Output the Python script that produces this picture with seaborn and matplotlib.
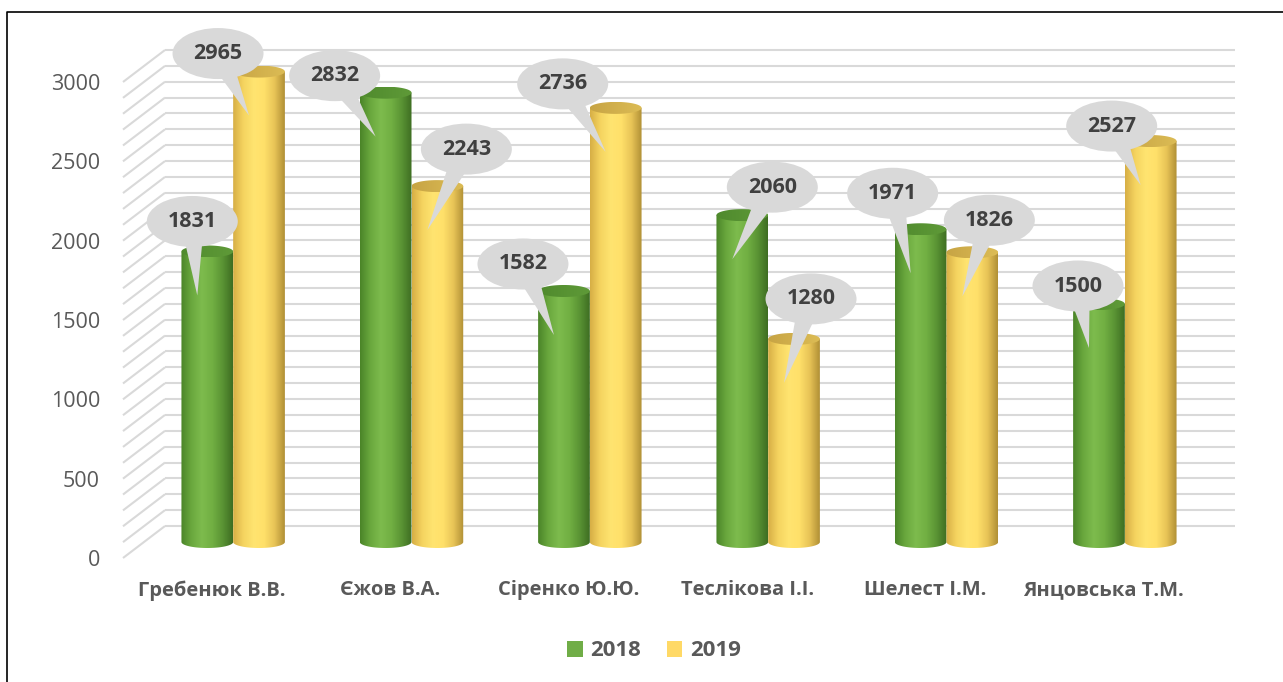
import numpy as np
import pandas as pd
import matplotlib
matplotlib.use("Agg")
import matplotlib.pyplot as plt
import seaborn as sns
from matplotlib.transforms import ScaledTranslation, IdentityTransform
from matplotlib.patches import Ellipse, Polygon, Patch
from matplotlib.path import Path
from matplotlib.colors import to_rgb
from matplotlib.lines import Line2D

# ---------------- data ----------------
names = ["Гребенюк В.В.", "Єжов В.А.", "Сіренко Ю.Ю.", "Теслікова І.І.",
         "Шелест І.М.", "Янцовська Т.М."]
years = ["2018", "2019"]
values_2018 = [1831, 2832, 1582, 2060, 1971, 1500]
values_2019 = [2965, 2243, 2736, 1280, 1826, 2527]
y_ticks = [0, 500, 1000, 1500, 2000, 2500, 3000]

# ---------------- layout / style ----------------
W, H, DPI = 1283, 682, 100
bubble_off = {
    "2018": [(-15, 30), (-51, 17), (-41, 27), (30, 28), (-28, 36), (-21, 18)],
    "2019": [(-41, 18), (29, 37), (-53, 24), (17, 40), (17, 32), (-39, 15)],
}
tip_off = (-10, -44)
bubble_w, bubble_h = 91, 51
back_shift = (42, 32)
mid_shift = (21, 16)
cap_half = 6

grad = {
    "2018": ["#4a8428", "#6aa83e", "#7dbb4d", "#72b043", "#5a9434", "#3e6d22"],
    "2019": ["#d6ae45", "#f5d460", "#ffe470", "#ffe06a", "#e8c457", "#b08f35"],
}
cap_cols = {"2018": ["#4f8a2d", "#5f9a38"], "2019": ["#c7a444", "#dcbc55"]}
legend_cols = {"2018": "#70ad47", "2019": "#ffd966"}
grid_col = "#d9d9d9"
text_col = "#595959"
bubble_col = "#d9d9d9"

plt.rcParams["font.family"] = ["Open Sans", "DejaVu Sans"]

fig = plt.figure(figsize=(W / DPI, H / DPI), dpi=DPI)
fig.patch.set_facecolor("white")
ax = fig.add_axes([123 / W, (H - 558) / H, 1070 / W, 476 / H])
ax.set_facecolor("none")

df = pd.DataFrame({
    "name": names * 2,
    "year": [years[0]] * len(names) + [years[1]] * len(names),
    "value": values_2018 + values_2019,
})

sns.barplot(data=df, x="name", y="value", hue="year",
            palette=[legend_cols[y] for y in years], width=0.58,
            saturation=1, ax=ax, legend=False, zorder=2)

ax.set_xlim(-0.5, len(names) - 0.5)
ax.set_ylim(0, 3000)
for s in ax.spines.values():
    s.set_visible(False)
ax.set_xlabel("")
ax.set_ylabel("")
ax.set_yticks(y_ticks)
ax.set_yticklabels([str(t) for t in y_ticks])
ax.tick_params(axis="y", length=0, pad=16.5, labelsize=15.5, labelcolor=text_col)
ax.tick_params(axis="x", length=0, pad=16, labelsize=14.5, labelcolor=text_col)
for lab in ax.get_xticklabels():
    lab.set_fontweight("bold")
ax.grid(False)

back = ax.transData + ScaledTranslation(back_shift[0] / DPI, back_shift[1] / DPI,
                                        fig.dpi_scale_trans)
mid = ax.transData + ScaledTranslation(mid_shift[0] / DPI, mid_shift[1] / DPI,
                                       fig.dpi_scale_trans)

# pixel -> data scale
inv = ax.transData.inverted()
p0 = inv.transform((0, 0))
px_x = inv.transform((1, 0))[0] - p0[0]
px_y = inv.transform((0, 1))[1] - p0[1]

# ---------------- perspective grid ----------------
x0, x1 = ax.get_xlim()
for v in range(0, 3001, 100):
    ax.plot([x0, x1], [v, v], transform=back, color=grid_col, lw=1.5,
            zorder=0.5, clip_on=False, solid_capstyle="butt")
    ax.plot([x0, x0 + back_shift[0] * px_x], [v, v + back_shift[1] * px_y],
            color=grid_col, lw=1.5, zorder=0.5, clip_on=False,
            solid_capstyle="butt")


def gradient_image(cols, n=256):
    stops = np.linspace(0, 1, len(cols))
    xs = np.linspace(0, 1, n)
    rgb = np.array([to_rgb(c) for c in cols])
    arr = np.stack([np.interp(xs, stops, rgb[:, k]) for k in range(3)], axis=-1)
    return np.repeat(arr[None, :, :], 2, axis=0)


eh = cap_half * px_y
t_bot = np.linspace(np.pi, 2 * np.pi, 60)
t_all = np.linspace(0, 2 * np.pi, 120)

bar_tops = {}
for yi, year in enumerate(years):
    cont = ax.containers[yi]
    tops = []
    for bar in cont:
        bx, bw, bh = bar.get_x(), bar.get_width(), bar.get_height()
        bar.set_visible(False)
        cx = bx + bw / 2
        # body
        verts = [(bx, bh), (bx, 0)]
        verts += [(cx + bw / 2 * np.cos(t), eh * np.sin(t)) for t in t_bot]
        verts += [(bx + bw, bh), (bx, bh)]
        path = Path(verts, closed=True)
        im = ax.imshow(gradient_image(grad[year]), extent=[bx, bx + bw, -eh, bh],
                       transform=mid, aspect="auto", interpolation="bilinear",
                       zorder=2 + yi * 0.1)
        im.set_clip_box(fig.bbox)
        im.set_clip_path(path, transform=mid)
        # cap
        cverts = [(cx + bw / 2 * np.cos(t), bh + eh * np.sin(t)) for t in t_all]
        cpath = Path(cverts, closed=True)
        im2 = ax.imshow(gradient_image(cap_cols[year]),
                        extent=[bx, bx + bw, bh - eh, bh + eh],
                        transform=mid, aspect="auto", interpolation="bilinear",
                        zorder=2.05 + yi * 0.1)
        im2.set_clip_box(fig.bbox)
        im2.set_clip_path(cpath, transform=mid)
        tops.append((cx, bh))
    bar_tops[year] = tops

ax.set_xlim(-0.5, len(names) - 0.5)
ax.set_ylim(0, 3000)

# ---------------- callout labels ----------------
ident = IdentityTransform()
for year in years:
    vals = values_2018 if year == "2018" else values_2019
    for (cx, v), (dx, dy), val in zip(bar_tops[year], bubble_off[year], vals):
        ax_, ay_ = mid.transform((cx, v))
        bc = np.array([ax_ + dx, ay_ + dy])
        tip = np.array([ax_ + tip_off[0], ay_ + tip_off[1]])
        d = tip - bc
        d = d / np.hypot(*d)
        perp = np.array([-d[1], d[0]])
        tail = Polygon([bc + perp * 12, bc - perp * 12, tip], closed=True,
                       facecolor=bubble_col, edgecolor="none",
                       transform=ident, zorder=6, clip_on=False)
        fig.add_artist(tail)
        ell = Ellipse(bc, bubble_w, bubble_h, facecolor=bubble_col,
                      edgecolor="none", transform=ident, zorder=6, clip_on=False)
        fig.add_artist(ell)
        fig.text(bc[0] / W, bc[1] / H, str(val), ha="center", va="center",
                 fontsize=15.5, fontweight="bold", color="#404040", zorder=7)

# ---------------- legend ----------------
handles = [Patch(facecolor=legend_cols[y], edgecolor="none") for y in years]
leg = fig.legend(handles, years, loc="center", bbox_to_anchor=(654 / W, 1 - 651 / H),
                 ncol=2, frameon=False, handlelength=0.7, handleheight=0.7,
                 columnspacing=1.15, handletextpad=0.35,
                 prop={"size": 16, "weight": "bold"})
for t in leg.get_texts():
    t.set_color(text_col)

# ---------------- outer border ----------------
fig.add_artist(Line2D([7 / W, 7 / W, 1.0], [0.0, 1 - 12 / H, 1 - 12 / H],
                      transform=fig.transFigure, color="black", lw=1.2))

fig.savefig("out.png", dpi=DPI, facecolor="white")
